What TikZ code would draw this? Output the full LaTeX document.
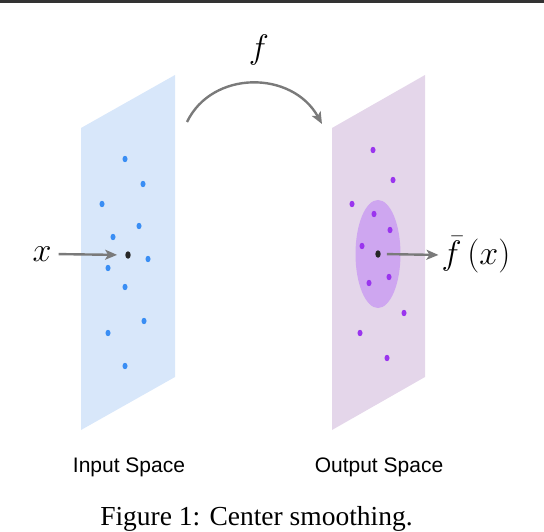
\documentclass[tikz,border=0pt]{standalone}
\usepackage{fix-cm}
\usepackage{fontspec}
\setmainfont{Liberation Serif}
\newfontfamily\labelfont{Liberation Sans}
\usetikzlibrary{arrows.meta,shapes.geometric}
\definecolor{inplane}{HTML}{D8E7FA}
\definecolor{outplane}{HTML}{E4D6EA}
\definecolor{blob}{HTML}{CEA6F0}
\definecolor{bluedot}{HTML}{3A8EF4}
\definecolor{purpledot}{HTML}{9A35EE}
\definecolor{arrgray}{HTML}{7A7A7A}
\tikzset{
  bdot/.style={ellipse, fill=bluedot, inner sep=0pt, minimum width=5pt, minimum height=6.4pt},
  pdot/.style={ellipse, fill=purpledot, inner sep=0pt, minimum width=5pt, minimum height=6.4pt},
  kdot/.style={ellipse, fill=black!85, inner sep=0pt, minimum width=5.4pt, minimum height=7.5pt},
  arr/.style={draw=arrgray, line width=2.4pt, -{Stealth[length=12pt,width=10pt,inset=3pt]}},
  mathlbl/.style={inner sep=0pt, font=\fontsize{34}{40}\selectfont},
  spacelbl/.style={inner sep=0pt, font=\labelfont\fontsize{21}{24}\selectfont},
}
\begin{document}
\begin{tikzpicture}[x=1pt,y=-1pt]
\useasboundingbox (0,0) rectangle (544,532);
% top rule
\fill[black!80] (0,0) rectangle (544,3);
% planes
\fill[inplane] (81,128) -- (175,75) -- (175,377) -- (81,430) -- cycle;
\fill[outplane] (332,128) -- (425,75) -- (425,377) -- (332,430) -- cycle;
\fill[blob] (378,254) ellipse [x radius=22.5, y radius=54];
% input dots
\foreach \p [count=\i] in {(125,159),(143,184),(102,204),(139,226),(113,237),(148,259),(108,268),(125,287),(144,321),(108,333),(125,366)}
  \node[bdot] (in\i) at \p {};
\node[kdot] (xd) at (128,255) {};
% output dots
\foreach \p [count=\i] in {(373,150),(393,180),(352,204),(374,214),(390,230),(362,246),(389,277),(369,283),(404,313),(360,333),(387,358)}
  \node[pdot] (out\i) at \p {};
\node[kdot] (fd) at (378,254) {};
% labels
\node[mathlbl] (xl) at (42,254) {$x$};
\node[mathlbl] (fl) at (259,50) {$f$};
\node[mathlbl] (fbl) at (476,255) {$\bar{f}\,(x)$};
% arrows
\draw[arr, shorten <=7pt, shorten >=8pt] (xl.east) -- (xd.west);
\draw[arr, shorten <=6pt, shorten >=3pt] (fd.east) -- (fbl.west);
\coordinate (cs) at (187,122);
\coordinate (ce) at (322,124);
\draw[arr] (cs) .. controls (212,70) and (292,70) .. (ce);
% space labels
\node[spacelbl] (inl) at (129,467) {Input Space};
\node[spacelbl] (outl) at (379,467) {Output Space};
% caption
\node[inner sep=0pt, anchor=base, font=\fontsize{27.5}{32}\selectfont] (cap) at (256.5,525) {Figure 1: Center smoothing.};
\end{tikzpicture}
\end{document}
